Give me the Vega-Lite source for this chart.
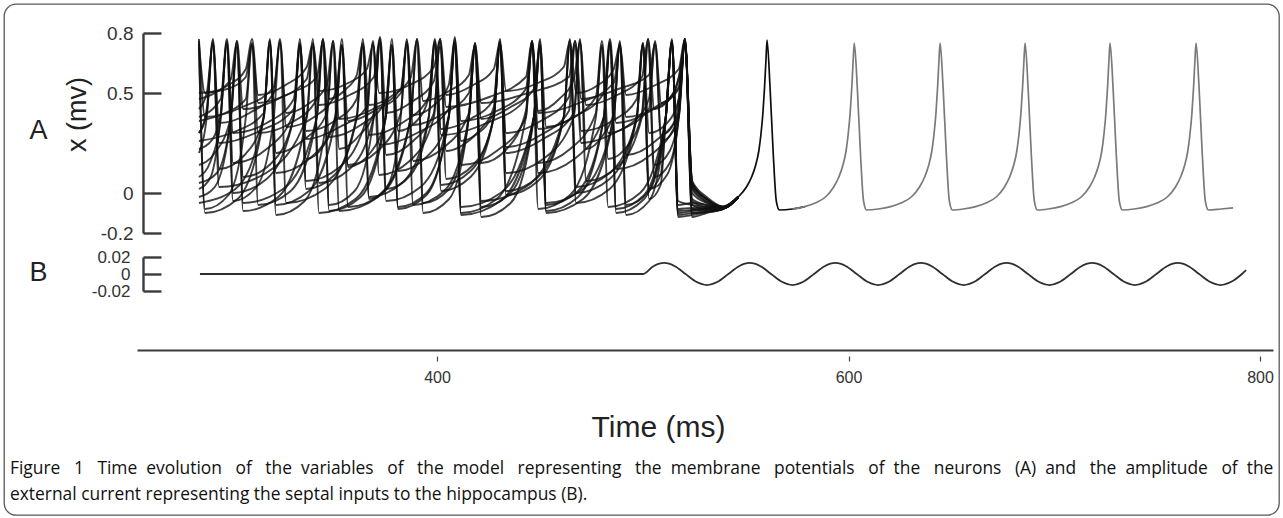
{
"$schema": "https://vega.github.io/schema/vega-lite/v6.json",
"width": 1275, "height": 511,
"autosize": {"type": "none"},
"padding": {"left": 4, "top": 4, "right": 4, "bottom": 3},
"background": "white",
"config": {"view": {"stroke": "#5a5a5a", "strokeWidth": 1.3, "cornerRadius": 12}, "axis": {"grid": false}},
"title": {"text": ["Figure \u00a0\u00a01 \u00a0\u00a0Time \u00a0evolution \u00a0\u00a0of \u00a0\u00a0the \u00a0variables \u00a0\u00a0of \u00a0\u00a0the \u00a0model \u00a0\u00a0representing \u00a0\u00a0the \u00a0membrane \u00a0\u00a0potentials \u00a0\u00a0of \u00a0the \u00a0\u00a0neurons \u00a0\u00a0(A) \u00a0and \u00a0\u00a0the \u00a0amplitude \u00a0\u00a0of \u00a0the", "external current representing the septal inputs to the hippocampus (B)."], "orient": "bottom", "anchor": "start", "frame": "group", "offset": -55, "dx": 6, "font": "Open Sans", "fontSize": 17.4, "fontWeight": "normal", "color": "#111111", "lineHeight": 26, "baseline": "top"},
"datasets": {
"chaos": [
{"n":"A","t":284.3,"v":0.76},{"n":"A","t":287.3,"v":-0.08},{"n":"A","t":298.7,"v":-0.01},{"n":"A","t":307.1,"v":0.38},{"n":"A","t":310.1,"v":0.74},{"n":"A","t":313.1,"v":-0.06},{"n":"A","t":328.9,"v":0.01},{"n":"A","t":341.6,"v":0.38},{"n":"A","t":344.6,"v":0.77},{"n":"A","t":347.6,"v":-0.09},{"n":"A","t":362.9,"v":-0.02},{"n":"A","t":375.1,"v":0.38},{"n":"A","t":378.1,"v":0.72},{"n":"A","t":381.1,"v":-0.07},{"n":"A","t":394.9,"v":0.0},{"n":"A","t":405.7,"v":0.38},{"n":"A","t":408.7,"v":0.78},{"n":"A","t":411.7,"v":-0.1},{"n":"A","t":429.0,"v":-0.03},{"n":"A","t":443.2,"v":0.38},{"n":"A","t":446.2,"v":0.75},{"n":"A","t":449.2,"v":-0.08},{"n":"A","t":464.7,"v":-0.01},{"n":"A","t":477.2,"v":0.38},{"n":"A","t":480.2,"v":0.73},{"n":"A","t":483.2,"v":-0.07},{"n":"A","t":498.7,"v":0.0},{"n":"A","t":511.2,"v":0.38},{"n":"A","t":514.2,"v":0.76},{"n":"A","t":517.2,"v":-0.1},{"n":"A","t":524,"v":-0.09},{"n":"A","t":531,"v":-0.08},{"n":"A","t":539,"v":-0.074},{"n":"A","t":546.4,"v":-0.02},
{"n":"B","t":284.3,"v":0.42},{"n":"B","t":288.1,"v":0.5},{"n":"B","t":291.1,"v":0.74},{"n":"B","t":294.1,"v":0.35},{"n":"B","t":308.9,"v":0.4},{"n":"B","t":320.7,"v":0.5},{"n":"B","t":323.7,"v":0.77},{"n":"B","t":326.7,"v":0.33},{"n":"B","t":340.3,"v":0.38},{"n":"B","t":350.8,"v":0.5},{"n":"B","t":353.8,"v":0.73},{"n":"B","t":356.8,"v":0.36},{"n":"B","t":371.1,"v":0.42},{"n":"B","t":382.4,"v":0.5},{"n":"B","t":385.4,"v":0.76},{"n":"B","t":388.4,"v":0.34},{"n":"B","t":403.5,"v":0.4},{"n":"B","t":415.5,"v":0.5},{"n":"B","t":418.5,"v":0.75},{"n":"B","t":421.5,"v":0.37},{"n":"B","t":435.8,"v":0.43},{"n":"B","t":447.1,"v":0.52},{"n":"B","t":450.1,"v":0.74},{"n":"B","t":453.1,"v":0.33},{"n":"B","t":468.6,"v":0.39},{"n":"B","t":481.1,"v":0.5},{"n":"B","t":484.1,"v":0.77},{"n":"B","t":487.1,"v":0.35},{"n":"B","t":503.8,"v":0.41},{"n":"B","t":517.5,"v":0.52},{"n":"B","t":520.5,"v":0.75},{"n":"B","t":524,"v":0.05},{"n":"B","t":531,"v":-0.03},{"n":"B","t":539,"v":-0.07},{"n":"B","t":546.4,"v":-0.018},
{"n":"C","t":284.3,"v":0.08},{"n":"C","t":290,"v":0.16},{"n":"C","t":294.9,"v":0.38},{"n":"C","t":297.9,"v":0.75},{"n":"C","t":300.9,"v":0.0},{"n":"C","t":317.2,"v":0.07},{"n":"C","t":330.4,"v":0.38},{"n":"C","t":333.4,"v":0.73},{"n":"C","t":336.4,"v":0.02},{"n":"C","t":350.2,"v":0.09},{"n":"C","t":361.0,"v":0.38},{"n":"C","t":364.0,"v":0.77},{"n":"C","t":367.0,"v":-0.02},{"n":"C","t":383.0,"v":0.05},{"n":"C","t":396.0,"v":0.38},{"n":"C","t":399.0,"v":0.74},{"n":"C","t":402.0,"v":0.01},{"n":"C","t":416.3,"v":0.08},{"n":"C","t":427.6,"v":0.38},{"n":"C","t":430.6,"v":0.76},{"n":"C","t":433.6,"v":-0.01},{"n":"C","t":449.1,"v":0.06},{"n":"C","t":461.6,"v":0.38},{"n":"C","t":464.6,"v":0.74},{"n":"C","t":467.6,"v":0.0},{"n":"C","t":483.9,"v":0.07},{"n":"C","t":497.1,"v":0.38},{"n":"C","t":500.1,"v":0.75},{"n":"C","t":503.1,"v":0.02},{"n":"C","t":511.8,"v":0.09},{"n":"C","t":517.5,"v":0.38},{"n":"C","t":520.5,"v":0.77},{"n":"C","t":524,"v":-0.12},{"n":"C","t":531,"v":-0.1},{"n":"C","t":539,"v":-0.08},{"n":"C","t":546.4,"v":-0.022},
{"n":"D","t":284.3,"v":0.47},{"n":"D","t":292,"v":0.5},{"n":"D","t":299.8,"v":0.57},{"n":"D","t":302.8,"v":0.76},{"n":"D","t":305.8,"v":0.42},{"n":"D","t":322.8,"v":0.47},{"n":"D","t":336.7,"v":0.57},{"n":"D","t":339.7,"v":0.74},{"n":"D","t":342.7,"v":0.44},{"n":"D","t":357.5,"v":0.49},{"n":"D","t":369.3,"v":0.58},{"n":"D","t":372.3,"v":0.78},{"n":"D","t":375.3,"v":0.4},{"n":"D","t":388.4,"v":0.46},{"n":"D","t":398.5,"v":0.56},{"n":"D","t":401.5,"v":0.73},{"n":"D","t":404.5,"v":0.43},{"n":"D","t":425.4,"v":0.48},{"n":"D","t":443.2,"v":0.58},{"n":"D","t":446.2,"v":0.76},{"n":"D","t":449.2,"v":0.41},{"n":"D","t":459.4,"v":0.47},{"n":"D","t":466.5,"v":0.57},{"n":"D","t":469.5,"v":0.75},{"n":"D","t":472.5,"v":0.44},{"n":"D","t":487.6,"v":0.49},{"n":"D","t":499.6,"v":0.58},{"n":"D","t":502.6,"v":0.77},{"n":"D","t":505.6,"v":0.42},{"n":"D","t":513.1,"v":0.47},{"n":"D","t":517.5,"v":0.57},{"n":"D","t":520.5,"v":0.74},{"n":"D","t":524,"v":0.06},{"n":"D","t":531,"v":-0.02},{"n":"D","t":539,"v":-0.068},{"n":"D","t":546.4,"v":-0.017},
{"n":"E","t":284.3,"v":0.73},{"n":"E","t":287.3,"v":-0.1},{"n":"E","t":303.1,"v":-0.03},{"n":"E","t":315.8,"v":0.38},{"n":"E","t":318.8,"v":0.76},{"n":"E","t":321.8,"v":-0.11},{"n":"E","t":335.7,"v":-0.04},{"n":"E","t":346.5,"v":0.38},{"n":"E","t":349.5,"v":0.74},{"n":"E","t":352.5,"v":-0.09},{"n":"E","t":371.4,"v":-0.02},{"n":"E","t":387.3,"v":0.38},{"n":"E","t":390.3,"v":0.77},{"n":"E","t":393.3,"v":-0.1},{"n":"E","t":405.9,"v":-0.03},{"n":"E","t":415.5,"v":0.38},{"n":"E","t":418.5,"v":0.75},{"n":"E","t":421.5,"v":-0.12},{"n":"E","t":435.8,"v":-0.05},{"n":"E","t":447.1,"v":0.38},{"n":"E","t":450.1,"v":0.73},{"n":"E","t":453.1,"v":-0.1},{"n":"E","t":471.0,"v":-0.03},{"n":"E","t":485.9,"v":0.38},{"n":"E","t":488.9,"v":0.76},{"n":"E","t":491.9,"v":-0.11},{"n":"E","t":503.1,"v":-0.04},{"n":"E","t":511.2,"v":0.38},{"n":"E","t":514.2,"v":0.75},{"n":"E","t":517.2,"v":-0.12},{"n":"E","t":524,"v":-0.11},{"n":"E","t":531,"v":-0.095},{"n":"E","t":539,"v":-0.08},{"n":"E","t":546.4,"v":-0.024},
{"n":"F","t":284.3,"v":0.3},{"n":"F","t":288.1,"v":0.42},{"n":"F","t":291.1,"v":0.77},{"n":"F","t":294.1,"v":0.25},{"n":"F","t":313.8,"v":0.31},{"n":"F","t":330.4,"v":0.42},{"n":"F","t":333.4,"v":0.74},{"n":"F","t":336.4,"v":0.27},{"n":"F","t":352.7,"v":0.33},{"n":"F","t":365.9,"v":0.43},{"n":"F","t":368.9,"v":0.76},{"n":"F","t":371.9,"v":0.24},{"n":"F","t":390.3,"v":0.3},{"n":"F","t":405.7,"v":0.42},{"n":"F","t":408.7,"v":0.75},{"n":"F","t":411.7,"v":0.26},{"n":"F","t":421.2,"v":0.32},{"n":"F","t":427.6,"v":0.43},{"n":"F","t":430.6,"v":0.77},{"n":"F","t":433.6,"v":0.23},{"n":"F","t":450.4,"v":0.29},{"n":"F","t":464.1,"v":0.41},{"n":"F","t":467.1,"v":0.74},{"n":"F","t":470.1,"v":0.25},{"n":"F","t":488.1,"v":0.31},{"n":"F","t":503.0,"v":0.42},{"n":"F","t":506.0,"v":0.76},{"n":"F","t":509.0,"v":0.26},{"n":"F","t":514.8,"v":0.31},{"n":"F","t":517.5,"v":0.42},{"n":"F","t":520.5,"v":0.75},{"n":"F","t":524,"v":0.0},{"n":"F","t":531,"v":-0.05},{"n":"F","t":539,"v":-0.072},{"n":"F","t":546.4,"v":-0.02},
{"n":"G","t":284.3,"v":0.02},{"n":"G","t":290,"v":0.08},{"n":"G","t":294.9,"v":0.38},{"n":"G","t":297.9,"v":0.74},{"n":"G","t":300.9,"v":-0.04},{"n":"G","t":312.3,"v":0.03},{"n":"G","t":320.7,"v":0.38},{"n":"G","t":323.7,"v":0.76},{"n":"G","t":326.7,"v":-0.05},{"n":"G","t":345.4,"v":0.02},{"n":"G","t":361.0,"v":0.38},{"n":"G","t":364.0,"v":0.73},{"n":"G","t":367.0,"v":-0.03},{"n":"G","t":376.2,"v":0.04},{"n":"G","t":382.4,"v":0.38},{"n":"G","t":385.4,"v":0.77},{"n":"G","t":388.4,"v":-0.06},{"n":"G","t":403.5,"v":0.01},{"n":"G","t":415.5,"v":0.38},{"n":"G","t":418.5,"v":0.74},{"n":"G","t":421.5,"v":-0.04},{"n":"G","t":443.1,"v":0.03},{"n":"G","t":461.6,"v":0.38},{"n":"G","t":464.6,"v":0.76},{"n":"G","t":467.6,"v":-0.05},{"n":"G","t":483.9,"v":0.02},{"n":"G","t":497.1,"v":0.38},{"n":"G","t":500.1,"v":0.75},{"n":"G","t":503.1,"v":-0.03},{"n":"G","t":508.7,"v":0.04},{"n":"G","t":511.2,"v":0.38},{"n":"G","t":514.2,"v":0.74},{"n":"G","t":517.2,"v":-0.06},{"n":"G","t":524,"v":-0.05},{"n":"G","t":531,"v":-0.06},{"n":"G","t":539,"v":-0.074},{"n":"G","t":546.4,"v":-0.021},
{"n":"H","t":284.3,"v":0.36},{"n":"H","t":297,"v":0.4},{"n":"H","t":307.1,"v":0.47},{"n":"H","t":310.1,"v":0.75},{"n":"H","t":313.1,"v":0.3},{"n":"H","t":328.9,"v":0.35},{"n":"H","t":341.6,"v":0.47},{"n":"H","t":344.6,"v":0.77},{"n":"H","t":347.6,"v":0.28},{"n":"H","t":362.9,"v":0.34},{"n":"H","t":375.1,"v":0.46},{"n":"H","t":378.1,"v":0.74},{"n":"H","t":381.1,"v":0.31},{"n":"H","t":390.1,"v":0.36},{"n":"H","t":396.0,"v":0.48},{"n":"H","t":399.0,"v":0.76},{"n":"H","t":402.0,"v":0.29},{"n":"H","t":424.1,"v":0.35},{"n":"H","t":443.2,"v":0.47},{"n":"H","t":446.2,"v":0.73},{"n":"H","t":449.2,"v":0.32},{"n":"H","t":464.7,"v":0.37},{"n":"H","t":477.2,"v":0.48},{"n":"H","t":480.2,"v":0.76},{"n":"H","t":483.2,"v":0.3},{"n":"H","t":494.6,"v":0.35},{"n":"H","t":503.0,"v":0.47},{"n":"H","t":506.0,"v":0.74},{"n":"H","t":509.0,"v":0.29},{"n":"H","t":514.8,"v":0.34},{"n":"H","t":517.5,"v":0.47},{"n":"H","t":520.5,"v":0.77},{"n":"H","t":524,"v":-0.03},{"n":"H","t":531,"v":-0.06},{"n":"H","t":539,"v":-0.075},{"n":"H","t":546.4,"v":-0.02},
{"n":"I","t":284.3,"v":0.14},{"n":"I","t":292,"v":0.2},{"n":"I","t":299.8,"v":0.38},{"n":"I","t":302.8,"v":0.73},{"n":"I","t":305.8,"v":0.08},{"n":"I","t":319.6,"v":0.15},{"n":"I","t":330.4,"v":0.38},{"n":"I","t":333.4,"v":0.77},{"n":"I","t":336.4,"v":0.06},{"n":"I","t":352.7,"v":0.13},{"n":"I","t":365.9,"v":0.38},{"n":"I","t":368.9,"v":0.75},{"n":"I","t":371.9,"v":0.09},{"n":"I","t":386.7,"v":0.16},{"n":"I","t":398.5,"v":0.38},{"n":"I","t":401.5,"v":0.76},{"n":"I","t":404.5,"v":0.07},{"n":"I","t":417.6,"v":0.14},{"n":"I","t":427.6,"v":0.38},{"n":"I","t":430.6,"v":0.74},{"n":"I","t":433.6,"v":0.1},{"n":"I","t":451.6,"v":0.17},{"n":"I","t":466.5,"v":0.38},{"n":"I","t":469.5,"v":0.77},{"n":"I","t":472.5,"v":0.06},{"n":"I","t":487.6,"v":0.13},{"n":"I","t":499.6,"v":0.38},{"n":"I","t":502.6,"v":0.75},{"n":"I","t":505.6,"v":0.08},{"n":"I","t":513.1,"v":0.15},{"n":"I","t":517.5,"v":0.38},{"n":"I","t":520.5,"v":0.76},{"n":"I","t":524,"v":-0.08},{"n":"I","t":531,"v":-0.085},{"n":"I","t":539,"v":-0.078},{"n":"I","t":546.4,"v":-0.021},
{"n":"J","t":284.3,"v":-0.05},{"n":"J","t":302,"v":0.02},{"n":"J","t":315.8,"v":0.38},{"n":"J","t":318.8,"v":0.77},{"n":"J","t":321.8,"v":-0.06},{"n":"J","t":337.8,"v":0.01},{"n":"J","t":350.8,"v":0.38},{"n":"J","t":353.8,"v":0.74},{"n":"J","t":356.8,"v":-0.07},{"n":"J","t":373.6,"v":0.0},{"n":"J","t":387.3,"v":0.38},{"n":"J","t":390.3,"v":0.76},{"n":"J","t":393.3,"v":-0.05},{"n":"J","t":405.9,"v":0.02},{"n":"J","t":415.5,"v":0.38},{"n":"J","t":418.5,"v":0.73},{"n":"J","t":421.5,"v":-0.07},{"n":"J","t":435.8,"v":0.0},{"n":"J","t":447.1,"v":0.38},{"n":"J","t":450.1,"v":0.76},{"n":"J","t":453.1,"v":-0.06},{"n":"J","t":468.6,"v":0.01},{"n":"J","t":481.1,"v":0.38},{"n":"J","t":484.1,"v":0.75},{"n":"J","t":487.1,"v":-0.08},{"n":"J","t":500.7,"v":-0.01},{"n":"J","t":511.2,"v":0.38},{"n":"J","t":514.2,"v":0.77},{"n":"J","t":517.2,"v":-0.08},{"n":"J","t":524,"v":-0.075},{"n":"J","t":531,"v":-0.075},{"n":"J","t":539,"v":-0.076},{"n":"J","t":546.4,"v":-0.02},
{"n":"K","t":284.3,"v":0.77},{"n":"K","t":287.3,"v":0.38},{"n":"K","t":305.5,"v":0.43},{"n":"K","t":320.7,"v":0.53},{"n":"K","t":323.7,"v":0.75},{"n":"K","t":326.7,"v":0.4},{"n":"K","t":338.1,"v":0.45},{"n":"K","t":346.5,"v":0.54},{"n":"K","t":349.5,"v":0.76},{"n":"K","t":352.5,"v":0.37},{"n":"K","t":369.0,"v":0.42},{"n":"K","t":382.4,"v":0.52},{"n":"K","t":385.4,"v":0.74},{"n":"K","t":388.4,"v":0.39},{"n":"K","t":398.6,"v":0.44},{"n":"K","t":405.7,"v":0.54},{"n":"K","t":408.7,"v":0.77},{"n":"K","t":411.7,"v":0.36},{"n":"K","t":429.0,"v":0.41},{"n":"K","t":443.2,"v":0.52},{"n":"K","t":446.2,"v":0.75},{"n":"K","t":449.2,"v":0.4},{"n":"K","t":469.1,"v":0.45},{"n":"K","t":485.9,"v":0.55},{"n":"K","t":488.9,"v":0.73},{"n":"K","t":491.9,"v":0.38},{"n":"K","t":506.2,"v":0.43},{"n":"K","t":517.5,"v":0.53},{"n":"K","t":520.5,"v":0.76},{"n":"K","t":524,"v":0.03},{"n":"K","t":531,"v":-0.04},{"n":"K","t":539,"v":-0.07},{"n":"K","t":546.4,"v":-0.019},
{"n":"L","t":284.3,"v":0.2},{"n":"L","t":288.1,"v":0.38},{"n":"L","t":291.1,"v":0.76},{"n":"L","t":294.1,"v":0.03},{"n":"L","t":316.9,"v":0.1},{"n":"L","t":336.7,"v":0.38},{"n":"L","t":339.7,"v":0.73},{"n":"L","t":342.7,"v":0.05},{"n":"L","t":357.5,"v":0.12},{"n":"L","t":369.3,"v":0.38},{"n":"L","t":372.3,"v":0.77},{"n":"L","t":375.3,"v":0.02},{"n":"L","t":387.2,"v":0.09},{"n":"L","t":396.0,"v":0.38},{"n":"L","t":399.0,"v":0.75},{"n":"L","t":402.0,"v":0.04},{"n":"L","t":416.3,"v":0.11},{"n":"L","t":427.6,"v":0.38},{"n":"L","t":430.6,"v":0.74},{"n":"L","t":433.6,"v":0.01},{"n":"L","t":449.1,"v":0.08},{"n":"L","t":461.6,"v":0.38},{"n":"L","t":464.6,"v":0.77},{"n":"L","t":467.6,"v":0.03},{"n":"L","t":483.9,"v":0.1},{"n":"L","t":497.1,"v":0.38},{"n":"L","t":500.1,"v":0.74},{"n":"L","t":503.1,"v":0.02},{"n":"L","t":508.7,"v":0.09},{"n":"L","t":511.2,"v":0.38},{"n":"L","t":514.2,"v":0.76},{"n":"L","t":517.2,"v":-0.04},{"n":"L","t":524,"v":-0.06},{"n":"L","t":531,"v":-0.07},{"n":"L","t":539,"v":-0.075},{"n":"L","t":546.4,"v":-0.02},
{"n":"M","t":284.3,"v":0.5},{"n":"M","t":298,"v":0.52},{"n":"M","t":307.1,"v":0.58},{"n":"M","t":310.1,"v":0.74},{"n":"M","t":313.1,"v":0.45},{"n":"M","t":328.9,"v":0.5},{"n":"M","t":341.6,"v":0.58},{"n":"M","t":344.6,"v":0.76},{"n":"M","t":347.6,"v":0.47},{"n":"M","t":355.8,"v":0.52},{"n":"M","t":361.0,"v":0.59},{"n":"M","t":364.0,"v":0.75},{"n":"M","t":367.0,"v":0.44},{"n":"M","t":378.7,"v":0.49},{"n":"M","t":387.3,"v":0.58},{"n":"M","t":390.3,"v":0.77},{"n":"M","t":393.3,"v":0.46},{"n":"M","t":405.9,"v":0.51},{"n":"M","t":415.5,"v":0.59},{"n":"M","t":418.5,"v":0.74},{"n":"M","t":421.5,"v":0.45},{"n":"M","t":444.3,"v":0.5},{"n":"M","t":464.1,"v":0.58},{"n":"M","t":467.1,"v":0.76},{"n":"M","t":470.1,"v":0.47},{"n":"M","t":488.1,"v":0.52},{"n":"M","t":503.0,"v":0.59},{"n":"M","t":506.0,"v":0.75},{"n":"M","t":509.0,"v":0.45},{"n":"M","t":514.8,"v":0.5},{"n":"M","t":517.5,"v":0.58},{"n":"M","t":520.5,"v":0.74},{"n":"M","t":524,"v":0.04},{"n":"M","t":531,"v":-0.03},{"n":"M","t":539,"v":-0.069},{"n":"M","t":546.4,"v":-0.018},
{"n":"N","t":284.3,"v":0.22},{"n":"N","t":291,"v":0.27},{"n":"N","t":294.9,"v":0.4},{"n":"N","t":297.9,"v":0.76},{"n":"N","t":300.9,"v":0.15},{"n":"N","t":317.2,"v":0.22},{"n":"N","t":330.4,"v":0.4},{"n":"N","t":333.4,"v":0.74},{"n":"N","t":336.4,"v":0.17},{"n":"N","t":345.1,"v":0.24},{"n":"N","t":350.8,"v":0.4},{"n":"N","t":353.8,"v":0.77},{"n":"N","t":356.8,"v":0.14},{"n":"N","t":371.1,"v":0.21},{"n":"N","t":382.4,"v":0.4},{"n":"N","t":385.4,"v":0.75},{"n":"N","t":388.4,"v":0.16},{"n":"N","t":403.5,"v":0.23},{"n":"N","t":415.5,"v":0.4},{"n":"N","t":418.5,"v":0.73},{"n":"N","t":421.5,"v":0.15},{"n":"N","t":433.9,"v":0.22},{"n":"N","t":443.2,"v":0.41},{"n":"N","t":446.2,"v":0.76},{"n":"N","t":449.2,"v":0.15},{"n":"N","t":464.7,"v":0.22},{"n":"N","t":477.2,"v":0.4},{"n":"N","t":480.2,"v":0.74},{"n":"N","t":483.2,"v":0.17},{"n":"N","t":492.9,"v":0.24},{"n":"N","t":499.6,"v":0.4},{"n":"N","t":502.6,"v":0.77},{"n":"N","t":505.6,"v":0.14},{"n":"N","t":513.1,"v":0.21},{"n":"N","t":517.5,"v":0.4},{"n":"N","t":520.5,"v":0.75},{"n":"N","t":524,"v":-0.06},{"n":"N","t":531,"v":-0.08},{"n":"N","t":539,"v":-0.077},{"n":"N","t":546.4,"v":-0.021},
{"n":"O","t":284.3,"v":-0.02},{"n":"O","t":292,"v":0.03},{"n":"O","t":299.8,"v":0.38},{"n":"O","t":302.8,"v":0.75},{"n":"O","t":305.8,"v":-0.09},{"n":"O","t":322.8,"v":-0.02},{"n":"O","t":336.7,"v":0.38},{"n":"O","t":339.7,"v":0.77},{"n":"O","t":342.7,"v":-0.1},{"n":"O","t":360.4,"v":-0.03},{"n":"O","t":375.1,"v":0.38},{"n":"O","t":378.1,"v":0.74},{"n":"O","t":381.1,"v":-0.08},{"n":"O","t":394.9,"v":-0.01},{"n":"O","t":405.7,"v":0.38},{"n":"O","t":408.7,"v":0.76},{"n":"O","t":411.7,"v":-0.11},{"n":"O","t":430.9,"v":-0.04},{"n":"O","t":447.1,"v":0.38},{"n":"O","t":450.1,"v":0.73},{"n":"O","t":453.1,"v":-0.09},{"n":"O","t":468.6,"v":-0.02},{"n":"O","t":481.1,"v":0.38},{"n":"O","t":484.1,"v":0.76},{"n":"O","t":487.1,"v":-0.1},{"n":"O","t":500.7,"v":-0.03},{"n":"O","t":511.2,"v":0.38},{"n":"O","t":514.2,"v":0.75},{"n":"O","t":517.2,"v":-0.11},{"n":"O","t":524,"v":-0.1},{"n":"O","t":531,"v":-0.09},{"n":"O","t":539,"v":-0.079},{"n":"O","t":546.4,"v":-0.023},
{"n":"P","t":284.3,"v":0.26},{"n":"P","t":300,"v":0.3},{"n":"P","t":315.8,"v":0.4},{"n":"P","t":318.8,"v":0.74},{"n":"P","t":321.8,"v":0.2},{"n":"P","t":335.7,"v":0.27},{"n":"P","t":346.5,"v":0.4},{"n":"P","t":349.5,"v":0.76},{"n":"P","t":352.5,"v":0.22},{"n":"P","t":362.4,"v":0.29},{"n":"P","t":369.3,"v":0.4},{"n":"P","t":372.3,"v":0.75},{"n":"P","t":375.3,"v":0.19},{"n":"P","t":388.4,"v":0.26},{"n":"P","t":398.5,"v":0.4},{"n":"P","t":401.5,"v":0.77},{"n":"P","t":404.5,"v":0.21},{"n":"P","t":417.6,"v":0.28},{"n":"P","t":427.6,"v":0.4},{"n":"P","t":430.6,"v":0.74},{"n":"P","t":433.6,"v":0.2},{"n":"P","t":451.6,"v":0.27},{"n":"P","t":466.5,"v":0.4},{"n":"P","t":469.5,"v":0.76},{"n":"P","t":472.5,"v":0.22},{"n":"P","t":480.7,"v":0.29},{"n":"P","t":485.9,"v":0.4},{"n":"P","t":488.9,"v":0.75},{"n":"P","t":491.9,"v":0.19},{"n":"P","t":506.2,"v":0.26},{"n":"P","t":517.5,"v":0.4},{"n":"P","t":520.5,"v":0.77},{"n":"P","t":524,"v":-0.1},{"n":"P","t":531,"v":-0.095},{"n":"P","t":539,"v":-0.08},{"n":"P","t":546.4,"v":-0.023},
{"n":"Q","t":284.3,"v":0.3},{"n":"Q","t":288.1,"v":0.4},{"n":"Q","t":291.1,"v":0.75},{"n":"Q","t":294.1,"v":0.12},{"n":"Q","t":306.5,"v":0.19},{"n":"Q","t":315.8,"v":0.38},{"n":"Q","t":318.8,"v":0.76},{"n":"Q","t":321.8,"v":0.1},{"n":"Q","t":337.8,"v":0.17},{"n":"Q","t":350.8,"v":0.38},{"n":"Q","t":353.8,"v":0.74},{"n":"Q","t":356.8,"v":0.13},{"n":"Q","t":367.5,"v":0.2},{"n":"Q","t":375.1,"v":0.38},{"n":"Q","t":378.1,"v":0.77},{"n":"Q","t":381.1,"v":0.11},{"n":"Q","t":394.9,"v":0.18},{"n":"Q","t":405.7,"v":0.38},{"n":"Q","t":408.7,"v":0.73},{"n":"Q","t":411.7,"v":0.14},{"n":"Q","t":429.0,"v":0.21},{"n":"Q","t":443.2,"v":0.38},{"n":"Q","t":446.2,"v":0.76},{"n":"Q","t":449.2,"v":0.1},{"n":"Q","t":466.7,"v":0.17},{"n":"Q","t":481.1,"v":0.38},{"n":"Q","t":484.1,"v":0.75},{"n":"Q","t":487.1,"v":0.12},{"n":"Q","t":503.8,"v":0.19},{"n":"Q","t":517.5,"v":0.38},{"n":"Q","t":520.5,"v":0.76},{"n":"Q","t":524,"v":-0.04},{"n":"Q","t":531,"v":-0.07},{"n":"Q","t":539,"v":-0.074},{"n":"Q","t":546.4,"v":-0.02},
{"n":"R","t":284.3,"v":0.38},{"n":"R","t":294.9,"v":0.47},{"n":"R","t":297.9,"v":0.77},{"n":"R","t":300.9,"v":0.3},{"n":"R","t":317.2,"v":0.35},{"n":"R","t":330.4,"v":0.47},{"n":"R","t":333.4,"v":0.75},{"n":"R","t":336.4,"v":0.31},{"n":"R","t":350.2,"v":0.36},{"n":"R","t":361.0,"v":0.47},{"n":"R","t":364.0,"v":0.74},{"n":"R","t":367.0,"v":0.29},{"n":"R","t":383.0,"v":0.35},{"n":"R","t":396.0,"v":0.48},{"n":"R","t":399.0,"v":0.77},{"n":"R","t":402.0,"v":0.32},{"n":"R","t":416.3,"v":0.37},{"n":"R","t":427.6,"v":0.47},{"n":"R","t":430.6,"v":0.75},{"n":"R","t":433.6,"v":0.3},{"n":"R","t":450.4,"v":0.36},{"n":"R","t":464.1,"v":0.48},{"n":"R","t":467.1,"v":0.76},{"n":"R","t":470.1,"v":0.31},{"n":"R","t":485.1,"v":0.36},{"n":"R","t":497.1,"v":0.47},{"n":"R","t":500.1,"v":0.74},{"n":"R","t":503.1,"v":0.3},{"n":"R","t":511.8,"v":0.35},{"n":"R","t":517.5,"v":0.47},{"n":"R","t":520.5,"v":0.75},{"n":"R","t":524,"v":0.02},{"n":"R","t":531,"v":-0.045},{"n":"R","t":539,"v":-0.071},{"n":"R","t":546.4,"v":-0.019},
{"n":"S","t":284.3,"v":0.05},{"n":"S","t":293,"v":0.1},{"n":"S","t":299.8,"v":0.38},{"n":"S","t":302.8,"v":0.76},{"n":"S","t":305.8,"v":-0.05},{"n":"S","t":325.2,"v":0.02},{"n":"S","t":341.6,"v":0.38},{"n":"S","t":344.6,"v":0.74},{"n":"S","t":347.6,"v":-0.06},{"n":"S","t":360.0,"v":0.01},{"n":"S","t":369.3,"v":0.38},{"n":"S","t":372.3,"v":0.77},{"n":"S","t":375.3,"v":-0.04},{"n":"S","t":392.0,"v":0.03},{"n":"S","t":405.7,"v":0.38},{"n":"S","t":408.7,"v":0.75},{"n":"S","t":411.7,"v":-0.07},{"n":"S","t":430.9,"v":0.0},{"n":"S","t":447.1,"v":0.38},{"n":"S","t":450.1,"v":0.77},{"n":"S","t":453.1,"v":-0.05},{"n":"S","t":471.0,"v":0.02},{"n":"S","t":485.9,"v":0.38},{"n":"S","t":488.9,"v":0.74},{"n":"S","t":491.9,"v":-0.06},{"n":"S","t":503.1,"v":0.01},{"n":"S","t":511.2,"v":0.38},{"n":"S","t":514.2,"v":0.76},{"n":"S","t":517.2,"v":-0.09},{"n":"S","t":524,"v":-0.085},{"n":"S","t":531,"v":-0.08},{"n":"S","t":539,"v":-0.077},{"n":"S","t":546.4,"v":-0.021},
{"n":"T","t":284.3,"v":0.75},{"n":"T","t":287.3,"v":0.5},{"n":"T","t":298.7,"v":0.54},{"n":"T","t":307.1,"v":0.62},{"n":"T","t":310.1,"v":0.77},{"n":"T","t":313.1,"v":0.49},{"n":"T","t":326.4,"v":0.54},{"n":"T","t":336.7,"v":0.63},{"n":"T","t":339.7,"v":0.75},{"n":"T","t":342.7,"v":0.51},{"n":"T","t":356.8,"v":0.55},{"n":"T","t":365.9,"v":0.62},{"n":"T","t":368.9,"v":0.74},{"n":"T","t":371.9,"v":0.5},{"n":"T","t":386.7,"v":0.54},{"n":"T","t":398.5,"v":0.63},{"n":"T","t":401.5,"v":0.77},{"n":"T","t":404.5,"v":0.49},{"n":"T","t":417.6,"v":0.54},{"n":"T","t":427.6,"v":0.62},{"n":"T","t":430.6,"v":0.75},{"n":"T","t":433.6,"v":0.51},{"n":"T","t":449.1,"v":0.55},{"n":"T","t":461.6,"v":0.63},{"n":"T","t":464.6,"v":0.76},{"n":"T","t":467.6,"v":0.5},{"n":"T","t":478.3,"v":0.54},{"n":"T","t":485.9,"v":0.62},{"n":"T","t":488.9,"v":0.74},{"n":"T","t":491.9,"v":0.49},{"n":"T","t":506.2,"v":0.54},{"n":"T","t":517.5,"v":0.62},{"n":"T","t":520.5,"v":0.77},{"n":"T","t":524,"v":0.05},{"n":"T","t":531,"v":-0.03},{"n":"T","t":539,"v":-0.068},{"n":"T","t":546.4,"v":-0.018}
],
"sync": [
{"k":"transient","t":546.4,"v":-0.02},{"k":"transient","t":550.4,"v":0.03},{"k":"transient","t":552.9,"v":0.08},{"k":"transient","t":554.9,"v":0.14},{"k":"transient","t":556.4,"v":0.21},{"k":"transient","t":557.4,"v":0.29},{"k":"transient","t":558.4,"v":0.4},{"k":"transient","t":559.2,"v":0.53},{"k":"transient","t":559.9,"v":0.67},{"k":"transient","t":560.4,"v":0.765},{"k":"transient","t":561.9,"v":0.52},{"k":"transient","t":563.4,"v":0.2},{"k":"transient","t":564.9,"v":-0.04},{"k":"transient","t":566.4,"v":-0.085},{"k":"transient","t":572.8,"v":-0.08},{"k":"transient","t":578.8,"v":-0.068},
{"k":"steady","t":572.8,"v":-0.08},{"k":"steady","t":578.8,"v":-0.068},{"k":"steady","t":583.8,"v":-0.05},{"k":"steady","t":588.8,"v":-0.02},{"k":"steady","t":592.8,"v":0.03},{"k":"steady","t":595.3,"v":0.08},{"k":"steady","t":597.3,"v":0.14},{"k":"steady","t":598.8,"v":0.21},{"k":"steady","t":599.8,"v":0.29},{"k":"steady","t":600.8,"v":0.4},{"k":"steady","t":601.6,"v":0.53},{"k":"steady","t":602.3,"v":0.67},{"k":"steady","t":602.8,"v":0.75},{"k":"steady","t":604.3,"v":0.52},{"k":"steady","t":605.8,"v":0.2},{"k":"steady","t":607.3,"v":-0.04},{"k":"steady","t":608.8,"v":-0.085},
{"k":"steady","t":614.5,"v":-0.08},{"k":"steady","t":620.5,"v":-0.068},{"k":"steady","t":625.5,"v":-0.05},{"k":"steady","t":630.5,"v":-0.02},{"k":"steady","t":634.5,"v":0.03},{"k":"steady","t":637.0,"v":0.08},{"k":"steady","t":639.0,"v":0.14},{"k":"steady","t":640.5,"v":0.21},{"k":"steady","t":641.5,"v":0.29},{"k":"steady","t":642.5,"v":0.4},{"k":"steady","t":643.3,"v":0.53},{"k":"steady","t":644.0,"v":0.67},{"k":"steady","t":644.5,"v":0.75},{"k":"steady","t":646.0,"v":0.52},{"k":"steady","t":647.5,"v":0.2},{"k":"steady","t":649.0,"v":-0.04},{"k":"steady","t":650.5,"v":-0.085},
{"k":"steady","t":655.8,"v":-0.08},{"k":"steady","t":661.8,"v":-0.068},{"k":"steady","t":666.8,"v":-0.05},{"k":"steady","t":671.8,"v":-0.02},{"k":"steady","t":675.8,"v":0.03},{"k":"steady","t":678.3,"v":0.08},{"k":"steady","t":680.3,"v":0.14},{"k":"steady","t":681.8,"v":0.21},{"k":"steady","t":682.8,"v":0.29},{"k":"steady","t":683.8,"v":0.4},{"k":"steady","t":684.6,"v":0.53},{"k":"steady","t":685.3,"v":0.67},{"k":"steady","t":685.8,"v":0.75},{"k":"steady","t":687.3,"v":0.52},{"k":"steady","t":688.8,"v":0.2},{"k":"steady","t":690.3,"v":-0.04},{"k":"steady","t":691.8,"v":-0.085},
{"k":"steady","t":697.1,"v":-0.08},{"k":"steady","t":703.1,"v":-0.068},{"k":"steady","t":708.1,"v":-0.05},{"k":"steady","t":713.1,"v":-0.02},{"k":"steady","t":717.1,"v":0.03},{"k":"steady","t":719.6,"v":0.08},{"k":"steady","t":721.6,"v":0.14},{"k":"steady","t":723.1,"v":0.21},{"k":"steady","t":724.1,"v":0.29},{"k":"steady","t":725.1,"v":0.4},{"k":"steady","t":725.9,"v":0.53},{"k":"steady","t":726.6,"v":0.67},{"k":"steady","t":727.1,"v":0.75},{"k":"steady","t":728.6,"v":0.52},{"k":"steady","t":730.1,"v":0.2},{"k":"steady","t":731.6,"v":-0.04},{"k":"steady","t":733.1,"v":-0.085},
{"k":"steady","t":738.9,"v":-0.08},{"k":"steady","t":744.9,"v":-0.068},{"k":"steady","t":749.9,"v":-0.05},{"k":"steady","t":754.9,"v":-0.02},{"k":"steady","t":758.9,"v":0.03},{"k":"steady","t":761.4,"v":0.08},{"k":"steady","t":763.4,"v":0.14},{"k":"steady","t":764.9,"v":0.21},{"k":"steady","t":765.9,"v":0.29},{"k":"steady","t":766.9,"v":0.4},{"k":"steady","t":767.7,"v":0.53},{"k":"steady","t":768.4,"v":0.67},{"k":"steady","t":768.9,"v":0.75},{"k":"steady","t":770.4,"v":0.52},{"k":"steady","t":771.9,"v":0.2},{"k":"steady","t":773.4,"v":-0.04},{"k":"steady","t":774.9,"v":-0.085},{"k":"steady","t":780.9,"v":-0.08},{"k":"steady","t":786.9,"v":-0.074}
],
"wave": [
{"t":284.8,"i":0},{"t":500,"i":0},{"t":505.2,"i":0.0092},{"t":510.4,"i":0.013},{"t":515.6,"i":0.0092},{"t":520.8,"i":0},{"t":526,"i":-0.0092},{"t":531.2,"i":-0.013},{"t":536.4,"i":-0.0092},{"t":541.6,"i":0},
{"t":546.8,"i":0.0092},{"t":552.0,"i":0.013},{"t":557.2,"i":0.0092},{"t":562.4,"i":0},{"t":567.6,"i":-0.0092},{"t":572.8,"i":-0.013},{"t":578.0,"i":-0.0092},{"t":583.2,"i":0},
{"t":588.4,"i":0.0092},{"t":593.6,"i":0.013},{"t":598.8,"i":0.0092},{"t":604.0,"i":0},{"t":609.2,"i":-0.0092},{"t":614.4,"i":-0.013},{"t":619.6,"i":-0.0092},{"t":624.8,"i":0},
{"t":630.0,"i":0.0092},{"t":635.2,"i":0.013},{"t":640.4,"i":0.0092},{"t":645.6,"i":0},{"t":650.8,"i":-0.0092},{"t":656.0,"i":-0.013},{"t":661.2,"i":-0.0092},{"t":666.4,"i":0},
{"t":671.6,"i":0.0092},{"t":676.8,"i":0.013},{"t":682.0,"i":0.0092},{"t":687.2,"i":0},{"t":692.4,"i":-0.0092},{"t":697.6,"i":-0.013},{"t":702.8,"i":-0.0092},{"t":708.0,"i":0},
{"t":713.2,"i":0.0092},{"t":718.4,"i":0.013},{"t":723.6,"i":0.0092},{"t":728.8,"i":0},{"t":734.0,"i":-0.0092},{"t":739.2,"i":-0.013},{"t":744.4,"i":-0.0092},{"t":749.6,"i":0},
{"t":754.8,"i":0.0092},{"t":760.0,"i":0.013},{"t":765.2,"i":0.0092},{"t":770.4,"i":0},{"t":775.6,"i":-0.0092},{"t":780.8,"i":-0.013},{"t":786.0,"i":-0.0092},{"t":791.2,"i":0},{"t":793.2,"i":0.0045}
]
},
"encoding": {
"x": {"field": "t", "type": "quantitative", "scale": {"domain": [254.2, 806.3], "range": [133, 1269], "nice": false, "zero": false},
"axis": {"orient": "bottom", "offset": -165, "values": [400, 600, 800], "grid": false, "domainColor": "#3a3a3a", "domainWidth": 2.2, "tickColor": "#444444", "tickWidth": 1.2, "tickSize": 11, "tickDash": [0, 6, 5, 20], "labelPadding": 8, "labelFontSize": 16, "labelColor": "#333333", "labelFont": "Liberation Sans", "title": "Time (ms)", "titleFontSize": 30, "titleFont": "Liberation Sans", "titleFontWeight": "normal", "titleColor": "#222222", "titleX": 654, "titleY": 77, "titleBaseline": "middle", "titleAlign": "center"}}
},
"layer": [
{"data": {"name": "chaos"},
"mark": {"type": "line", "interpolate": "monotone", "color": "#101010", "strokeWidth": 1.9, "opacity": 0.8},
"encoding": {
"detail": {"field": "n", "type": "nominal"},
"y": {"field": "v", "type": "quantitative", "scale": {"domain": [-0.2, 0.8], "range": [229, 29], "nice": false, "zero": false},
"axis": {"orient": "left", "offset": -139, "values": [-0.2, 0, 0.5, 0.8], "labelExpr": "toString(datum.value)", "domainColor": "#3a3a3a", "domainWidth": 2.4, "tickColor": "#3a3a3a", "tickWidth": 2.4, "tickSize": -18, "labelPadding": 28, "labelFontSize": 19, "labelFont": "Liberation Sans", "labelColor": "#333333", "labelOverlap": false, "labelFlush": false, "title": "x (mv)", "titleFontSize": 27, "titleFont": "Liberation Sans", "titleFontWeight": "normal", "titleColor": "#222222", "titleX": -66, "titleY": 110, "titleAngle": -90, "titleAlign": "center", "titleBaseline": "middle"}}
}},
{"data": {"name": "sync"},
"mark": {"type": "line", "interpolate": "monotone", "strokeWidth": 1.7},
"encoding": {
"color": {"field": "k", "type": "nominal", "scale": {"domain": ["transient", "steady"], "range": ["#0d0d0d", "#7a7a7a"]}, "legend": null},
"y": {"field": "v", "type": "quantitative", "scale": {"domain": [-0.2, 0.8], "range": [229, 29], "nice": false, "zero": false},
"axis": {"orient": "left", "offset": 0, "domain": false, "ticks": false, "labels": false, "title": "A", "titleX": 34, "titleY": 126, "titleAngle": 0, "titleAlign": "center", "titleBaseline": "middle", "titleFontSize": 27, "titleFont": "Liberation Sans", "titleFontWeight": "normal", "titleColor": "#222222"}}
}},
{"data": {"name": "wave"},
"mark": {"type": "line", "interpolate": "monotone", "color": "#2e2e2e", "strokeWidth": 1.8},
"encoding": {
"y": {"field": "i", "type": "quantitative", "scale": {"domain": [-0.02, 0.02], "range": [287, 253], "nice": false, "zero": false},
"axis": {"orient": "left", "offset": -139, "values": [-0.02, 0, 0.02], "labelExpr": "toString(datum.value)", "domainColor": "#3a3a3a", "domainWidth": 2.4, "tickColor": "#3a3a3a", "tickWidth": 2.4, "tickSize": -18, "labelPadding": 31, "labelFontSize": 17, "labelFont": "Liberation Sans", "labelColor": "#333333", "labelOverlap": false, "labelFlush": false, "title": "B", "titleX": -105, "titleY": 268, "titleAngle": 0, "titleAlign": "center", "titleBaseline": "middle", "titleFontSize": 27, "titleFont": "Liberation Sans", "titleFontWeight": "normal", "titleColor": "#222222"}}
}}
],
"resolve": {"scale": {"y": "independent"}, "axis": {"y": "independent"}}
}
